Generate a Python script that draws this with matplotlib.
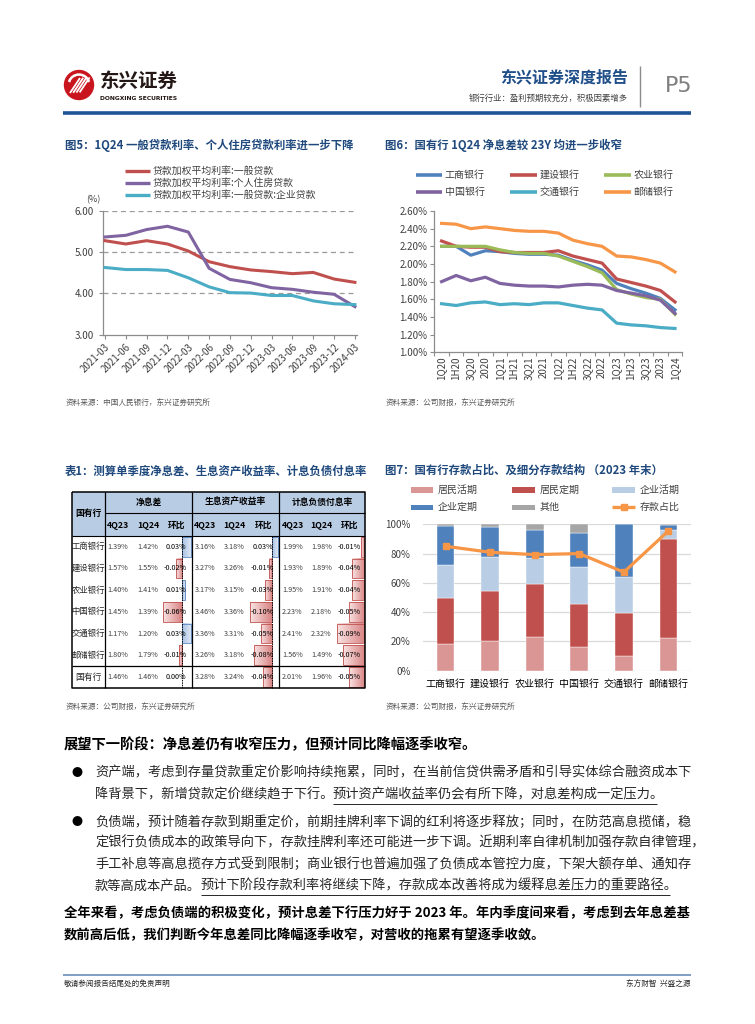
import matplotlib
matplotlib.use('Agg')
import matplotlib.pyplot as plt
import numpy as np
from matplotlib.patches import Rectangle, Circle, Wedge
from matplotlib.ticker import FixedLocator

plt.rcParams['font.family'] = ['Noto Sans CJK SC', 'DejaVu Sans']

# ---------------- data ----------------
f5_dates = ['2021-03', '2021-06', '2021-09', '2021-12', '2022-03', '2022-06', '2022-09',
            '2022-12', '2023-03', '2023-06', '2023-09', '2023-12', '2024-03']
f5_general = [5.28, 5.20, 5.28, 5.20, 5.03, 4.77, 4.65, 4.57, 4.53, 4.48, 4.51, 4.35, 4.27]
f5_mortgage = [5.37, 5.41, 5.55, 5.63, 5.49, 4.61, 4.34, 4.26, 4.14, 4.10, 4.03, 3.98, 3.68]
f5_corporate = [4.63, 4.58, 4.58, 4.56, 4.38, 4.16, 4.02, 4.01, 3.95, 3.95, 3.82, 3.75, 3.73]
f5_names = ['贷款加权平均利率:一般贷款', '贷款加权平均利率:个人住房贷款', '贷款加权平均利率:一般贷款:企业贷款']

f6_periods = ['1Q20', '1H20', '3Q20', '2020', '1Q21', '1H21', '3Q21', '2021', '1Q22', '1H22',
              '3Q22', '2022', '1Q23', '1H23', '3Q23', '2023', '1Q24']
f6_icbc = [2.20, 2.20, 2.10, 2.15, 2.14, 2.12, 2.11, 2.11, 2.10, 2.04, 1.99, 1.93, 1.78, 1.72, 1.67, 1.61, 1.48]
f6_ccb = [2.26, 2.20, 2.19, 2.19, 2.14, 2.13, 2.13, 2.13, 2.15, 2.09, 2.05, 2.01, 1.83, 1.79, 1.75, 1.70, 1.57]
f6_abc = [2.20, 2.20, 2.20, 2.20, 2.16, 2.13, 2.12, 2.12, 2.09, 2.03, 1.97, 1.90, 1.71, 1.66, 1.62, 1.60, 1.43]
f6_boc = [1.80, 1.87, 1.81, 1.85, 1.78, 1.76, 1.75, 1.75, 1.74, 1.76, 1.77, 1.76, 1.70, 1.67, 1.64, 1.59, 1.44]
f6_bocom = [1.55, 1.53, 1.56, 1.57, 1.54, 1.55, 1.54, 1.56, 1.56, 1.53, 1.50, 1.48, 1.33, 1.31, 1.30, 1.28, 1.27]
f6_psbc = [2.46, 2.45, 2.40, 2.42, 2.40, 2.38, 2.37, 2.37, 2.35, 2.27, 2.23, 2.20, 2.09, 2.08, 2.05, 2.01, 1.91]
f6_names = ['工商银行', '建设银行', '农业银行', '中国银行', '交通银行', '邮储银行']

t1_banks = ['工商银行', '建设银行', '农业银行', '中国银行', '交通银行', '邮储银行', '国有行']
t1_groups = ['净息差', '生息资产收益率', '计息负债付息率']
t1_subcols = ['4Q23', '1Q24', '环比']
t1_nim_4q23 = [1.39, 1.57, 1.40, 1.45, 1.17, 1.80, 1.46]
t1_nim_1q24 = [1.42, 1.55, 1.41, 1.39, 1.20, 1.79, 1.46]
t1_nim_chg = [0.03, -0.02, 0.01, -0.06, 0.03, -0.01, 0.00]
t1_yield_4q23 = [3.16, 3.27, 3.17, 3.46, 3.36, 3.26, 3.28]
t1_yield_1q24 = [3.18, 3.26, 3.15, 3.36, 3.31, 3.18, 3.24]
t1_yield_chg = [0.03, -0.01, -0.03, -0.10, -0.05, -0.08, -0.04]
t1_cost_4q23 = [1.99, 1.93, 1.95, 2.23, 2.41, 1.56, 2.01]
t1_cost_1q24 = [1.98, 1.89, 1.91, 2.18, 2.32, 1.49, 1.96]
t1_cost_chg = [-0.01, -0.04, -0.04, -0.05, -0.09, -0.07, -0.05]

f7_banks = ['工商银行', '建设银行', '农业银行', '中国银行', '交通银行', '邮储银行']
f7_house_demand = [18.2, 20.0, 22.8, 16.0, 10.3, 22.3]
f7_house_time = [31.7, 34.4, 36.4, 29.4, 29.3, 67.5]
f7_corp_demand = [22.6, 23.5, 17.6, 25.2, 24.6, 6.3]
f7_corp_time = [26.0, 20.3, 19.3, 23.7, 35.8, 3.7]
f7_other = [1.5, 1.8, 3.9, 5.7, 0.0, 0.2]
f7_deposit_share = [85.0, 80.9, 79.3, 80.0, 67.3, 95.5]
f7_names = ['居民活期', '居民定期', '企业活期', '企业定期', '其他', '存款占比']

# ---------------- figure helpers ----------------
W, H = 755, 1024
fig = plt.figure(figsize=(W / 100, H / 100), dpi=100)
cv = fig.add_axes([0, 0, 1, 1])
cv.patch.set_visible(False)
cv.axis('off')


def add_ax(l, t, r, b):
    return fig.add_axes([l / W, 1 - b / H, (r - l) / W, (b - t) / H])


def T(x, y, s, size=7, color='black', ha='left', va='center', weight='normal', **kw):
    return cv.text(x, y, s, fontsize=size, color=color, ha=ha, va=va, fontweight=weight, **kw)


def L(xs, ys, color='black', lw=1, **kw):
    cv.plot(xs, ys, color=color, lw=lw, solid_capstyle='butt', **kw)


TITLE_C = '#1F497D'
SRC_C = '#595959'
TICK_C = '#404040'

# ---------------- header ----------------
cv.add_patch(Circle((79, 85), 14.5, color='#C9151E', zorder=2))
cv.add_patch(Wedge((79, 85), 11, 200, 340, color='white', zorder=3))
cv.add_patch(Circle((79, 85), 8.5, color='#C9151E', zorder=4))
for k in range(4):
    L([70 + k * 3.2, 80 + k * 3.2], [93 - k * 0.2, 78 - k * 0.2], color='white', lw=1.3, zorder=5)
T(100, 81, '东兴证券', size=14, weight='bold', color='#231815')
T(100, 99, 'DONGXING SECURITIES', size=4.3, weight='bold', color='#231815', family='DejaVu Sans')
T(628, 77, '东兴证券深度报告', size=11.5, weight='bold', color='#1F4E89', ha='right')
T(628, 98, '银行行业：盈利预期较充分，积极因素增多', size=6, color='#404040', ha='right')
L([640, 640], [66, 107], color='#8C8C8C', lw=1)
T(665, 86, 'P5', size=16, color='#7F7F7F', family='DejaVu Sans')
L([63, 691], [113, 113], color='#1F5597', lw=2.6)

# ---------------- Figure 5 ----------------
T(65, 145, '图5：1Q24 一般贷款利率、个人住房贷款利率进一步下降', size=8.2, weight='bold', color=TITLE_C)
f5_colors = ['#C0504D', '#8064A2', '#4BACC6']
for i, (nm, c) in enumerate(zip(f5_names, f5_colors)):
    yy = 170.5 + i * 12.3
    L([125, 150], [yy, yy], color=c, lw=2.4)
    T(153, yy, nm, size=7.1, color=TICK_C)
T(86, 200, '(%)', size=6.5, color=TICK_C)

ax5 = add_ax(102.7, 211, 357, 334.7)
x5 = np.arange(len(f5_dates))
ax5.set_ylim(3, 6)
ax5.set_xlim(-0.11, len(f5_dates) - 1 + 0.1)
for yv in [4, 5, 6]:
    ax5.axhline(yv, color='#9A9A9A', lw=0.9, ls=(0, (4, 3)), zorder=1)
ax5.plot(x5, f5_general, color=f5_colors[0], lw=2.2, zorder=3)
ax5.plot(x5, f5_mortgage, color=f5_colors[1], lw=2.2, zorder=3)
ax5.plot(x5, f5_corporate, color=f5_colors[2], lw=2.2, zorder=3)
ax5.set_yticks([3, 4, 5, 6])
ax5.set_yticklabels(['%.2f' % v for v in [3, 4, 5, 6]])
ax5.set_xticks(x5)
ax5.set_xticklabels(f5_dates, rotation=45, ha='right', va='top', rotation_mode='anchor')
for s in ['top', 'right']:
    ax5.spines[s].set_visible(False)
for s in ['left', 'bottom']:
    ax5.spines[s].set_color('#8C8C8C')
    ax5.spines[s].set_linewidth(0.9)
ax5.tick_params(axis='both', labelsize=7, colors='#8C8C8C', labelcolor=TICK_C, length=3, width=0.8)
ax5.tick_params(axis='x', pad=2)
ax5.patch.set_visible(False)
T(66, 403, '资料来源：中国人民银行，东兴证券研究所', size=5.5, color=SRC_C)

# ---------------- Figure 6 ----------------
T(385, 145, '图6：国有行 1Q24 净息差较 23Y 均进一步收窄', size=8.2, weight='bold', color=TITLE_C)
f6_colors = ['#4F81BD', '#C0504D', '#9BBB59', '#8064A2', '#4BACC6', '#F79646']
f6_series = [f6_icbc, f6_ccb, f6_abc, f6_boc, f6_bocom, f6_psbc]
leg_x = [(416, 441.7, 444.5), (510, 536.5, 539.5), (604, 630.5, 633.5)]
for i, (nm, c) in enumerate(zip(f6_names, f6_colors)):
    r, col = divmod(i, 3)
    yy = 175 + r * 16.7
    L([leg_x[col][0], leg_x[col][1]], [yy, yy], color=c, lw=2.6)
    T(leg_x[col][2], yy, nm, size=7.2, color=TICK_C)

ax6 = add_ax(434.3, 211, 682.3, 352.3)
x6 = np.arange(len(f6_periods))
for ser, c in zip(f6_series, f6_colors):
    ax6.plot(x6, ser, color=c, lw=2.3, solid_joinstyle='round')
ax6.set_ylim(1.0, 2.6)
ax6.set_xlim(-0.5, len(f6_periods) - 0.5)
yt6 = np.arange(1.0, 2.61, 0.2)
ax6.set_yticks(yt6)
ax6.set_yticklabels(['%.2f%%' % v for v in yt6])
ax6.set_xticks(x6)
ax6.set_xticklabels(f6_periods, rotation=90, ha='center', va='top')
ax6.xaxis.set_minor_locator(FixedLocator(np.arange(-0.5, len(f6_periods), 1)))
ax6.tick_params(axis='x', which='major', length=0, pad=3)
ax6.tick_params(axis='x', which='minor', length=3, color='#8C8C8C', width=0.8)
ax6.tick_params(axis='y', length=3, color='#8C8C8C', width=0.8, pad=2)
ax6.tick_params(axis='both', labelsize=7, labelcolor=TICK_C)
for s in ['top', 'right']:
    ax6.spines[s].set_visible(False)
for s in ['left', 'bottom']:
    ax6.spines[s].set_color('#8C8C8C')
    ax6.spines[s].set_linewidth(0.9)
ax6.patch.set_visible(False)
T(386, 403, '资料来源：公司财报，东兴证券研究所', size=5.5, color=SRC_C)

# ---------------- Table 1 ----------------
T(65, 471, '表1：测算单季度净息差、生息资产收益率、计息负债付息率', size=8.2, weight='bold', color=TITLE_C)
tl, tr, tt, tb = 71.7, 365, 491.7, 688.3
hdr_mid, hdr_bot = 513, 536
row_h = (666 - hdr_bot) / 6
gx = [105, 192, 279, 365]
HDR_BG = '#B8CCE4'
cv.add_patch(Rectangle((tl, tt), tr - tl, hdr_bot - tt, color=HDR_BG, lw=0, zorder=1))

col_x = [[118, 148, 175.5], [205, 234.5, 262.5], [292.5, 321.5, 349]]
axis_x = [181.7, 271.5, 364.2]
px_per_unit = [307, 217, 303]
group_vals = [(t1_nim_4q23, t1_nim_1q24, t1_nim_chg),
              (t1_yield_4q23, t1_yield_1q24, t1_yield_chg),
              (t1_cost_4q23, t1_cost_1q24, t1_cost_chg)]


def grad_bar(x0, x1, y0, y1, c_axis, c_end, edge, axis_left):
    n = 64
    ca = np.array(matplotlib.colors.to_rgb(c_axis))
    ce = np.array(matplotlib.colors.to_rgb(c_end))
    tt_ = np.linspace(0, 1, n)[:, None]
    arr = ca * (1 - tt_) + ce * tt_
    if not axis_left:
        arr = arr[::-1]
    cv.imshow(arr[None, :, :], extent=(x0, x1, y1, y0), aspect='auto', zorder=2,
              interpolation='bilinear')
    cv.add_patch(Rectangle((x0, y0), x1 - x0, y1 - y0, fill=False, ec=edge, lw=0.6, zorder=3))


T((tl + gx[0]) / 2, (tt + hdr_bot) / 2, '国有行', size=6.3, weight='bold', ha='center')
for g, name in enumerate(t1_groups):
    T((gx[g] + gx[g + 1]) / 2, (tt + hdr_mid) / 2, name, size=6.3, weight='bold', ha='center')
    for k, sc in enumerate(t1_subcols):
        T(col_x[g][k] + (1 if k == 2 else 0), (hdr_mid + hdr_bot) / 2 + 0.5, sc, size=6.3,
          weight='bold', ha='center')

for i, bank in enumerate(t1_banks):
    if i < 6:
        y0 = hdr_bot + i * row_h
        y1 = y0 + row_h
    else:
        y0, y1 = 666, tb
    yc = (y0 + y1) / 2
    T((tl + gx[0]) / 2, yc, bank, size=6 if i < 6 else 6.3, ha='center', color='#262626')
    for g in range(3):
        a, b, c = group_vals[g]
        chg = c[i]
        if chg != 0:
            ln = abs(chg) * px_per_unit[g]
            if chg < 0:
                grad_bar(axis_x[g] - ln, axis_x[g], y0 + 1, y1 - 1, '#D98484', '#F9E3E3', '#C0504D', False)
            else:
                grad_bar(axis_x[g], axis_x[g] + ln, y0 + 1, y1 - 1, '#A9C1E3', '#E3EBF6', '#5B86C5', True)
        fs = 5.2
        T(col_x[g][0], yc, '%.2f%%' % a[i], size=fs, ha='center', color='#404040', zorder=4)
        T(col_x[g][1], yc, '%.2f%%' % b[i], size=fs, ha='center', color='#404040', zorder=4)
        T(col_x[g][2], yc, '%.2f%%' % chg, size=fs, ha='center', color='black', zorder=4)

# table lines
L([tl, tr, tr, tl, tl], [tt, tt, tb, tb, tt], color='black', lw=1.1, zorder=5)
for xg in gx[:-1]:
    L([xg, xg], [tt, tb], color='black', lw=0.9, zorder=5)
L([gx[0], tr], [hdr_mid, hdr_mid], color='black', lw=0.8, zorder=5)
L([tl, tr], [hdr_bot, hdr_bot], color='black', lw=0.8, zorder=5)
L([tl, tr], [666, 666], color='black', lw=0.9, zorder=5)
for ax_x in axis_x[:2]:
    L([ax_x, ax_x], [hdr_bot, tb], color='black', lw=0.7, ls=(0, (1.5, 1)), zorder=5)
T(66, 707, '资料来源：公司财报，东兴证券研究所', size=5.5, color=SRC_C)

# ---------------- Figure 7 ----------------
T(385, 470, '图7：国有行存款占比、及细分存款结构 （2023 年末）', size=8.2, weight='bold', color=TITLE_C)
f7_colors = ['#D99694', '#C0504D', '#B9CDE5', '#4F81BD', '#A6A6A6', '#F79646']
leg7_x = [(410.7, 433.3, 438), (511.7, 535, 539.5), (612.3, 635, 639.5)]
for i, (nm, c) in enumerate(zip(f7_names, f7_colors)):
    r, col = divmod(i, 3)
    yy = 490 + r * 17.3
    x0, x1, xt = leg7_x[col]
    if i < 5:
        cv.add_patch(Rectangle((x0, yy - 2.6), x1 - x0, 5.2, color=c, lw=0))
    else:
        L([x0, x1], [yy, yy], color=c, lw=2.4)
        cv.plot([(x0 + x1) / 2], [yy], marker='s', ms=4.5, color=c)
    T(xt, yy, nm, size=7.2, color=TICK_C)

ax7 = add_ax(423.3, 524.3, 690.7, 670.7)
x7 = np.arange(len(f7_banks))
bottom = np.zeros(len(f7_banks))
for ser, c in zip([f7_house_demand, f7_house_time, f7_corp_demand, f7_corp_time, f7_other], f7_colors[:5]):
    ax7.bar(x7, ser, bottom=bottom, width=0.4, color=c, edgecolor='white', linewidth=0.3, zorder=2)
    bottom = bottom + np.array(ser)
ax7.plot(x7, f7_deposit_share, color=f7_colors[5], lw=2.3, marker='s', ms=5, zorder=4)
ax7.set_ylim(0, 100)
ax7.set_xlim(-0.5, len(f7_banks) - 0.5)
ax7.set_yticks(np.arange(0, 101, 20))
ax7.set_yticklabels(['%d%%' % v for v in range(0, 101, 20)])
for yv in range(0, 101, 20):
    ax7.axhline(yv, color='#D9D9D9', lw=0.9, zorder=1)
ax7.set_xticks(x7)
ax7.set_xticklabels(f7_banks)
for s in ax7.spines.values():
    s.set_visible(False)
ax7.tick_params(axis='y', length=0, labelsize=7, labelcolor=TICK_C, pad=9)
ax7.tick_params(axis='x', length=0, labelsize=7.2, labelcolor='black', pad=6)
ax7.patch.set_visible(False)
T(386, 707, '资料来源：公司财报，东兴证券研究所', size=5.5, color=SRC_C)

# ---------------- body text ----------------
BODY = 9.5
CH = 13.2  # px per character at body size
T(64, 745, '展望下一阶段：净息差仍有收窄压力，但预计同比降幅逐季收窄。', size=10.3, weight='bold')

bullets = [
    [('资产端，考虑到存量贷款重定价影响持续拖累，同时，在当前信贷供需矛盾和引导实体综合融资成本下', ''),
     ('降背景下，新增贷款定价继续趋于下行。', '预计资产端收益率仍会有所下降，对息差构成一定压力。')],
    [('负债端，预计随着存款到期重定价，前期挂牌利率下调的红利将逐步释放；同时，在防范高息揽储，稳', ''),
     ('定银行负债成本的政策导向下，存款挂牌利率还可能进一步下调。近期利率自律机制加强存款自律管理，', ''),
     ('手工补息等高息揽存方式受到限制；商业银行也普遍加强了负债成本管控力度，下架大额存单、通知存', ''),
     ('款等高成本产品。', '预计下阶段存款利率将继续下降，存款成本改善将成为缓释息差压力的重要路径。')],
]
bullet_y = [[773, 795], [822, 843, 864, 886]]
for lines, ys in zip(bullets, bullet_y):
    T(72, ys[0], '●', size=8)
    for (plain, under), yy in zip(lines, ys):
        T(95, yy, plain, size=BODY, color='#262626')
        if under:
            xs = 95 + len(plain) * CH
            T(xs, yy, under, size=BODY, color='#262626')
            L([xs, xs + len(under) * CH - 6], [yy + 8.5, yy + 8.5], color='#262626', lw=0.7)

T(64, 913, '全年来看，考虑负债端的积极变化，预计息差下行压力好于 2023 年。年内季度间来看，考虑到去年息差基',
  size=9.6, weight='bold')
T(64, 935, '数前高后低，我们判断今年息差同比降幅逐季收窄，对营收的拖累有望逐季收敛。', size=9.6, weight='bold')

# ---------------- footer ----------------
L([63, 691], [975, 975], color='#7F9FC3', lw=1.4)
T(64, 984, '敬请参阅报告结尾处的免责声明', size=5.5, color='#262626')
T(690, 984, '东方财智  兴盛之源', size=5.5, color='#262626', ha='right')

cv.set_xlim(0, W)
cv.set_ylim(H, 0)
fig.savefig('out.png', dpi=100)
